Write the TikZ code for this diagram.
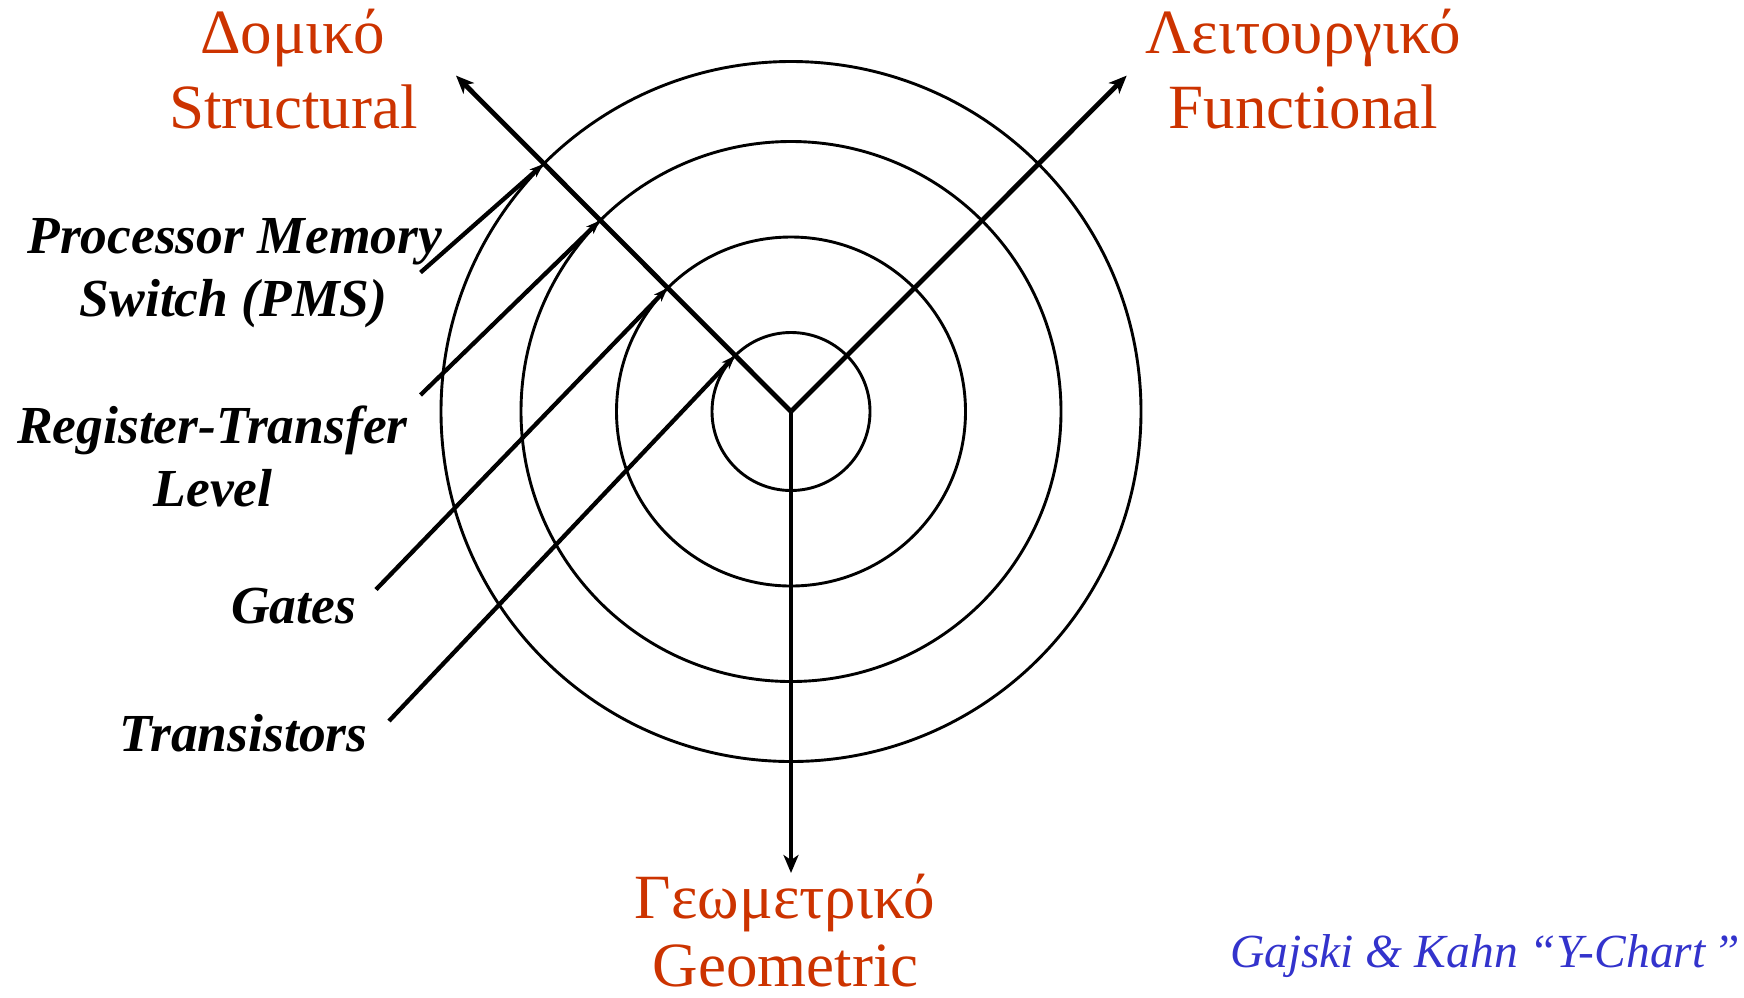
\documentclass[tikz,border=0pt]{standalone}
\usepackage{fontspec}
\setmainfont{Liberation Serif}
\usetikzlibrary{arrows.meta,calc}
\definecolor{axred}{RGB}{204,51,0}
\definecolor{credblue}{RGB}{51,51,204}
\begin{document}
\begin{tikzpicture}[x=1pt,y=-1pt,
  axisline/.style={line width=4.8pt, -{Stealth[length=18pt,width=15pt,inset=5pt]}},
  pointer/.style={line width=4.3pt, -{Stealth[length=14pt,width=10pt,inset=4pt]}},
  ring/.style={circle, draw, line width=2.9pt, inner sep=0pt, outer sep=0pt},
  axlabel/.style={text=axred, font=\fontsize{63}{75}\selectfont, anchor=base, inner sep=0pt},
  levlabel/.style={font=\bfseries\itshape\fontsize{53.5}{62}\selectfont, anchor=base, inner sep=0pt},
  credit/.style={text=credblue, font=\itshape\fontsize{47.5}{55}\selectfont, anchor=base, inner sep=0pt}]
\useasboundingbox (0,0) rectangle (1744,997);
\coordinate (O) at (791,411.5);
% rings
\node[ring, minimum size=158pt] (c1) at (O) {};
\node[ring, minimum size=349pt] (c2) at (O) {};
\node[ring, minimum size=540pt] (c3) at (O) {};
\node[ring, minimum size=700pt] (c4) at (O) {};
% axis tips
\coordinate (tS) at (456,75.6);
\coordinate (tF) at (1126.7,75.6);
\coordinate (tG) at (791,873);
\draw[axisline] (O) -- (tS);
\draw[axisline] (O) -- (tF);
\draw[axisline] (O) -- (tG);
% intersections of structural axis with rings
\coordinate (p4) at ($(O)+(-247.5,-247.5)$);
\coordinate (p3) at ($(O)+(-191,-191)$);
\coordinate (p2) at ($(O)+(-123.5,-123.5)$);
\coordinate (p1) at ($(O)+(-55.9,-55.9)$);
% pointer starts
\coordinate (s4) at (420.5,272.5);
\coordinate (s3) at (420.5,395);
\coordinate (s2) at (376,589.5);
\coordinate (s1) at (389,721);
\draw[pointer] (s4) -- (p4);
\draw[pointer] (s3) -- (p3);
\draw[pointer] (s2) -- (p2);
\draw[pointer] (s1) -- (p1);
% axis labels
\node[axlabel] (l1) at (292.5,53.4) {Δομικό};
\node[axlabel] (l2) at (293.6,128) {Structural};
\node[axlabel] (l3) at (1303.5,53.4) {Λειτουργικό};
\node[axlabel] (l4) at (1303.5,128) {Functional};
\node[axlabel] (l5) at (785,918.7) {Γεωμετρικό};
\node[axlabel] (l6) at (785.5,986.5) {Geometric};
% level labels
\node[levlabel] (v1) at (234.7,253.6) {Processor Memory};
\node[levlabel] (v2) at (233.6,316) {Switch (PMS)};
\node[levlabel] (v3) at (212.4,443.8) {Register-Transfer};
\node[levlabel] (v4) at (213,506) {Level};
\node[levlabel] (v5) at (293.6,623) {Gates};
\node[levlabel] (v6) at (243.6,751) {Transistors};
% credit
\node[credit] (cr) at (1485,967.6) {Gajski \& Kahn “Y-Chart\,”};
\end{tikzpicture}
\end{document}
